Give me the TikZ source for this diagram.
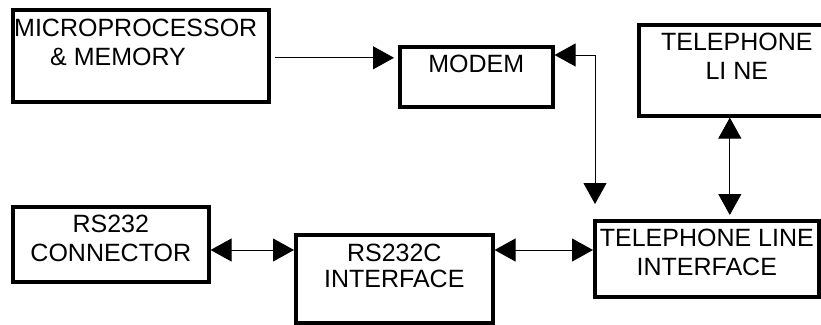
\documentclass[tikz,border=0pt]{standalone}
\usepackage{fontspec}
\setmainfont{Liberation Sans}
\usetikzlibrary{arrows.meta}

\begin{document}
\begin{tikzpicture}[x=1pt, y=1pt,
  blk/.style={rectangle, draw, line width=3.6pt, inner sep=0pt, anchor=north west},
  txt/.style={font=\fontsize{25}{28.5}\selectfont, align=center, inner sep=0pt,
              anchor=north, yshift=-10pt},
  arr/.style={-{Triangle[length=21pt, width=23pt]}, line width=1pt},
  biarr/.style={{Triangle[length=21pt, width=23pt]}-{Triangle[length=21pt, width=23pt]},
                line width=1pt}
]
\useasboundingbox (0,0) rectangle (821,-324);

%% -- Blocks -----------------------------------------------------
\node[blk, minimum width=256pt, minimum height=92pt,
      label={[txt, anchor=north west, align=left, xshift=3pt, yshift=-1pt]north west:
             MICROPROCESSOR\\\hspace*{36pt}\& MEMORY}] (micro) at (11,-8) {};

\node[blk, minimum width=153pt, minimum height=60pt,
      label={[txt]north:MODEM}] (modem) at (398,-45) {};

\node[blk, minimum width=196pt, minimum height=91pt,
      label={[txt]north:TELEPHONE\\LI NE}] (tel) at (637,-23) {};

\node[blk, minimum width=196pt, minimum height=75pt,
      label={[txt]north:RS232\\CONNECTOR}] (conn) at (11,-205) {};

\node[blk, minimum width=197pt, minimum height=88pt,
      label={[txt, yshift=-1pt]north:RS232C\\[-3pt]INTERFACE}] (rsif) at (294,-233) {};

\node[blk, minimum width=224pt, minimum height=76pt,
      label={[txt]north:TELEPHONE LINE\\INTERFACE}] (tlif) at (593,-219) {};

%% -- Connectors -------------------------------------------------
\draw[arr, shorten <=4pt, shorten >=4pt] ([yshift=-2pt]micro.east) -- ([yshift=-2pt]micro.east -| modem.west);
\draw[biarr, shorten >=15pt] ([yshift=-10pt]modem.north east) -| ([xshift=2pt]tlif.north west);
\draw[biarr, shorten >=4pt] ([xshift=-7pt]tel.south) -- ([xshift=-7pt]tel.south |- tlif.north);
\draw[biarr] ([yshift=-17pt]rsif.north east) -- ([yshift=-17pt]rsif.north east -| tlif.west);
\draw[biarr] ([yshift=-45pt]conn.north east) -- ([yshift=-45pt]conn.north east -| rsif.west);

\end{tikzpicture}
\end{document}
